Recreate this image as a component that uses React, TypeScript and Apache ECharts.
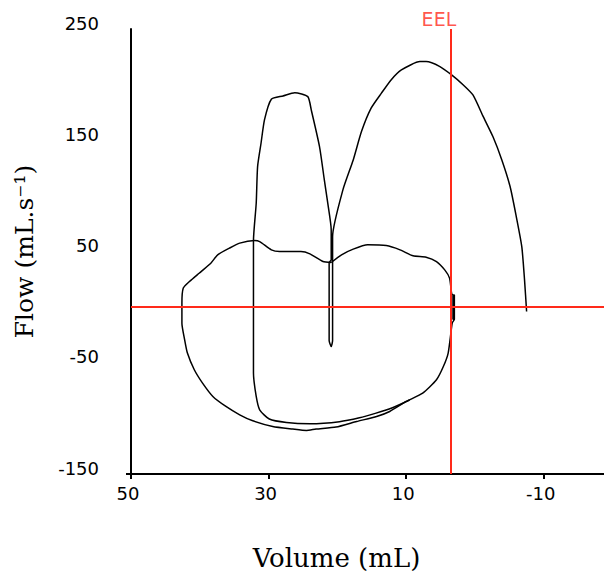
import React, { useEffect, useRef } from "react";
import * as echarts from "echarts";

// Axis ticks / labels
const xTickValues = [50, 30, 10, -10];
const yTickValues = [-150, -50, 50, 150, 250];
const xRange = [-18.75, 50];
const yRange = [-150, 250];

// End-expiratory level (volume, mL)
const eelVolume = 3.5;
const eelLabel = "EEL";

// Outer loop (volume mL, flow mL/s)
const outerLoopVolume = [
  20.9, 19.4, 17.7, 15.6, 12.9, 10.9, 9.0, 7.1, 5.6, 4.4, 3.7, 3.4,
  3.2, 3.0, 3.0, 3.2, 3.2, 3.0, 3.0, 3.3, 3.4,
  3.9, 4.6, 5.6, 7.6, 10.0, 12.4, 14.3, 17.2, 20.2, 23.1, 24.5, 26.5, 29.4,
  32.3, 34.2, 36.2, 38.1, 39.6, 40.8, 41.8, 42.2, 42.6, 42.6, 42.4, 41.5,
  40.1, 38.4, 37.4, 35.7, 34.2, 32.05, 31.3, 29.6, 28.4, 25.3, 24.0, 22.1, 20.9,
];
const outerLoopFlow = [
  40.1, 47.0, 52.1, 56.0, 55.3, 51.5, 46.1, 44.9, 41.0, 33.5, 26.1, 12.6,
  11.0, 11.0, -11.0, -11.0, 11.0, 11.0, -11.0, -14.0, -18.0,
  -41.3, -53.4, -65.3, -77.3, -84.8, -93.8, -98.3, -102.8, -107.8, -109.6, -110.9, -109.6, -107.3,
  -102.2, -96.8, -89.3, -80.3, -68.3, -56.3, -41.3, -29.4, -14.4, 3.6, 17.1, 23.0,
  30.5, 39.5, 47.0, 53.0, 57.5, 59.8, 58.9, 51.5, 50.0, 50.0, 47.9, 41.0, 40.1,
];

// Breath path: inner bottom, vertical rise, narrow hump, spike, tall hump
const breathVolume = [
  9.5, 12.0, 14.5, 16.8, 19.7, 24.0, 27.4, 29.9, 31.3, 31.8, 32.2, 32.2,
  31.8, 31.6, 31.1, 30.6, 29.6, 27.9, 26.2, 24.3, 23.8, 22.6, 21.9, 21.4, 20.9, 20.9,
  21.2, 21.2, 20.9, 20.7, 20.7,
  20.7, 19.2, 17.7, 16.5, 15.1, 13.6, 12.2, 10.7, 8.0, 7.1, 5.1, 3.4, 1.7, 0.3,
  -1.2, -2.6, -3.9, -5.1, -6.0, -6.8, -7.2, -7.5,
];
const breathFlow = [
  -83.5, -90.5, -95.5, -99.5, -103.0, -104.8, -103.7, -100.6, -92.3, -80.3, -59.3, 59.8,
  93.4, 126.3, 147.3, 168.3, 186.9, 189.8, 192.8, 189.2, 177.3, 144.3, 114.4, 93.4, 69.5, 42.5,
  40.0, -30.0, -35.4, -30.0, 40.0,
  63.4, 105.4, 132.3, 157.8, 178.8, 192.3, 204.2, 213.2, 220.7, 220.7, 216.2, 208.7, 199.7, 190.7,
  171.2, 153.3, 132.3, 108.4, 81.4, 54.4, 24.5, -4.0,
];

const zip = (a: number[], b: number[]) => a.map((v, i) => [v, b[i]]);

const RED = "#ff2a1a";
const SANS = "DejaVu Sans";
const SERIF = "DejaVu Serif";

export default function App() {
  const ref = useRef<HTMLDivElement>(null);

  useEffect(() => {
    if (!ref.current) return;
    const chart = echarts.init(ref.current, undefined, { renderer: "svg" });
    chart.setOption({
      animation: false,
      backgroundColor: "#ffffff",
      grid: { left: 131, top: 29, right: 0, bottom: 107, containLabel: false },
      xAxis: {
        type: "value",
        inverse: true,
        min: xRange[0],
        max: xRange[1],
        name: "Volume (mL)",
        nameLocation: "middle",
        nameGap: 71,
        nameTextStyle: {
          fontFamily: SERIF,
          fontSize: 26,
          color: "#000",
          padding: [0, 62, 0, 0],
        },
        axisLine: { show: true, onZero: false, lineStyle: { color: "#000", width: 2 } },
        axisTick: {
          show: true,
          customValues: xTickValues,
          length: 5,
          lineStyle: { color: "#000", width: 2 },
        },
        axisLabel: {
          customValues: xTickValues,
          margin: 10,
          fontFamily: SANS,
          fontSize: 18,
          color: "#000",
          padding: [0, 6, 0, 0],
        },
        splitLine: { show: false },
      },
      yAxis: {
        type: "value",
        min: yRange[0],
        max: yRange[1],
        name: "Flow (mL.s⁻¹)",
        nameLocation: "middle",
        nameRotate: 90,
        nameGap: 94,
        nameTextStyle: { fontFamily: SERIF, fontSize: 25, color: "#000" },
        axisLine: { show: true, onZero: false, lineStyle: { color: "#000", width: 2 } },
        axisTick: {
          show: true,
          customValues: [yRange[0]],
          length: 5,
          lineStyle: { color: "#000", width: 2 },
        },
        axisLabel: {
          customValues: yTickValues,
          margin: 32,
          fontFamily: SANS,
          fontSize: 18,
          color: "#000",
          verticalAlign: "bottom",
          lineHeight: 12,
        },
        splitLine: { show: false },
      },
      series: [
        {
          name: "outer",
          type: "line",
          data: zip(outerLoopVolume, outerLoopFlow),
          symbol: "none",
          smooth: 0.2,
          silent: true,
          z: 2,
          lineStyle: { color: "#000", width: 1.5 },
        },
        {
          name: "breath",
          type: "line",
          data: zip(breathVolume, breathFlow),
          symbol: "none",
          smooth: 0.2,
          silent: true,
          z: 2,
          lineStyle: { color: "#000", width: 1.5 },
        },
        {
          name: "refs",
          type: "line",
          data: [],
          silent: true,
          markLine: {
            silent: true,
            symbol: "none",
            animation: false,
            z: 5,
            label: { show: false },
            lineStyle: { color: RED, width: 2, type: "solid" },
            data: [{ xAxis: eelVolume }, { yAxis: 0 }],
          },
        },
        {
          name: "eel",
          type: "scatter",
          data: [[eelVolume, yRange[1]]],
          symbolSize: 1,
          silent: true,
          itemStyle: { color: "rgba(0,0,0,0)" },
          label: {
            show: true,
            position: "top",
            distance: 0,
            offset: [-12, 0],
            formatter: eelLabel,
            color: RED,
            fontFamily: SANS,
            fontSize: 19,
          },
        },
      ],
    });
    return () => chart.dispose();
  }, []);

  return (
    <div
      ref={ref}
      style={{ position: "absolute", left: 0, top: 0, width: 604, height: 581 }}
    />
  );
}
